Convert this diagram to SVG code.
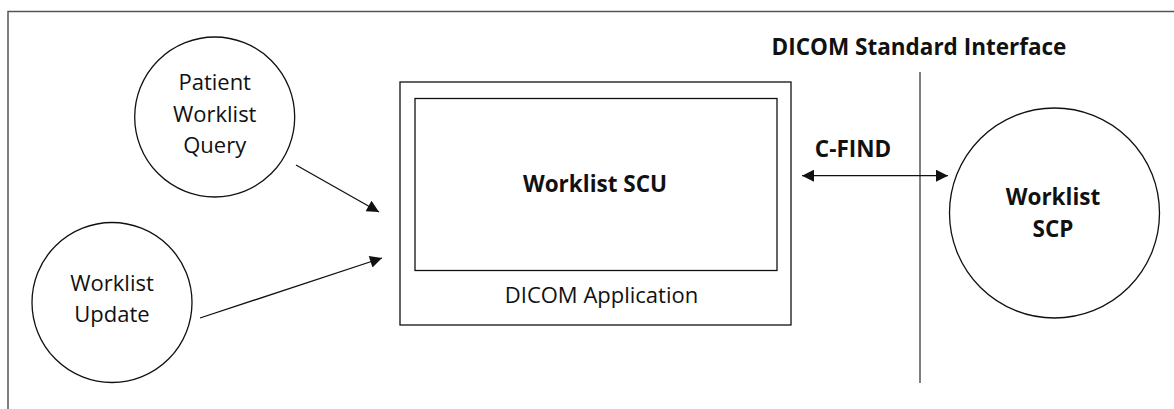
<svg xmlns="http://www.w3.org/2000/svg" width="1174" height="409" viewBox="0 0 1174 409">
<defs>
<style>
text{font-family:"Open Sans","Noto Sans","Liberation Sans",sans-serif;font-size:22px;fill:#111;text-anchor:middle}
.b{font-weight:bold;font-size:22.5px}
.sh{fill:#fff;stroke:#111;stroke-width:1.3}
.ln{stroke:#111;stroke-width:1.3;fill:none}
.fr{stroke:#555;stroke-width:1.5;fill:none}
</style>
<marker id="ah" viewBox="0 0 10 10" refX="10" refY="5" markerWidth="17" markerHeight="12" markerUnits="userSpaceOnUse" orient="auto-start-reverse">
<path d="M0,0 L10,5 L0,10 z" fill="#111"/>
</marker>
</defs>
<rect width="1174" height="409" fill="#fff"/>
<path class="fr" d="M8,409 V11.5 H1174"/>
<g id="patient-worklist-query">
<circle class="sh" cx="214.7" cy="117" r="80"/>
<text x="214.7" y="90">Patient</text>
<text x="214.7" y="122">Worklist</text>
<text x="214.7" y="153">Query</text>
</g>
<g id="worklist-update">
<circle class="sh" cx="112" cy="302.5" r="80"/>
<text x="112" y="291">Worklist</text>
<text x="112" y="322">Update</text>
</g>
<g id="dicom-application">
<rect class="sh" x="400" y="82" width="391" height="243"/>
<text x="601.5" y="303">DICOM Application</text>
</g>
<g id="worklist-scu">
<rect class="sh" x="415" y="98.5" width="362" height="172"/>
<text class="b" x="595" y="192">Worklist SCU</text>
</g>
<g id="worklist-scp">
<circle class="sh" cx="1054.5" cy="213" r="105"/>
<text class="b" x="1053" y="205">Worklist</text>
<text class="b" x="1053" y="237">SCP</text>
</g>
<g id="interface">
<line class="fr" x1="920" y1="72" x2="920" y2="383"/>
<text class="b" x="919" y="55">DICOM Standard Interface</text>
</g>
<g id="connectors">
<line class="ln" x1="296" y1="165" x2="379" y2="212" marker-end="url(#ah)"/>
<line class="ln" x1="200" y1="318" x2="382" y2="258" marker-end="url(#ah)"/>
<line class="ln" x1="802" y1="175.7" x2="948" y2="175.7" marker-start="url(#ah)" marker-end="url(#ah)"/>
<text class="b" x="853" y="157">C-FIND</text>
</g>
</svg>
